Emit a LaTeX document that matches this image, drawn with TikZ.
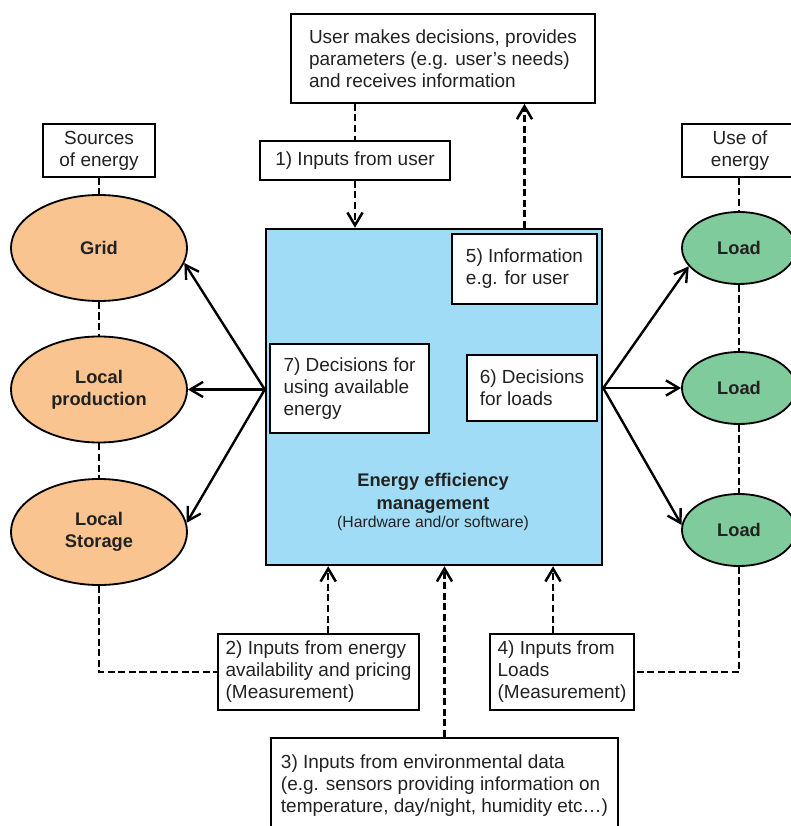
\documentclass[tikz,border=0pt]{standalone}
\usepackage{fontspec}
\setmainfont{Liberation Sans}
\usepackage{tikz}
\usetikzlibrary{shapes.geometric, arrows.meta}
\definecolor{srcorange}{HTML}{F9C48F}
\definecolor{loadgreen}{HTML}{80CB9C}
\definecolor{mgmtblue}{HTML}{A0DCF6}
\definecolor{txtgray}{HTML}{222222}
\tikzstyle{infobox} = [rectangle, draw=black, fill=white, line width=1.3pt, align=left, inner sep=0pt, text=txtgray, font=\fontsize{13.5}{15.6}\selectfont]
\tikzstyle{srcnode} = [ellipse, draw=black, fill=srcorange, line width=1.3pt, minimum width=4.4cm, minimum height=2.65cm, align=center, text=txtgray, font=\fontsize{13}{15.6}\selectfont\bfseries]
\tikzstyle{loadnode} = [ellipse, draw=black, fill=loadgreen, line width=1.3pt, minimum width=2.85cm, minimum height=1.8cm, align=center, text=txtgray, font=\fontsize{13}{15.6}\selectfont\bfseries]
\tikzstyle{arrow} = [line width=1.7pt, -{Straight Barb[length=3.2mm, width=3.8mm]}]
\tikzstyle{dashline} = [line width=1.8pt, dash pattern=on 5pt off 2.5pt]
\tikzstyle{dasharrow} = [dashline, -{Straight Barb[length=3.2mm, width=3.8mm]}]

\begin{document}
\begin{tikzpicture}[x=0.025cm, y=-0.025cm]
    \useasboundingbox (0,0) rectangle (790,826);

    \node (user) [infobox, minimum width=7.6cm, minimum height=2.225cm] at (443,58.5) {User makes decisions, provides\\parameters (e.g. user's needs)\\and receives information};
    \node (inuser) [infobox, minimum width=4.75cm, minimum height=0.975cm] at (355,160.5) {1) Inputs from user};
    \node (srclabel) [infobox, align=center, minimum width=2.8cm, minimum height=1.325cm] at (99,150.5) {Sources\\of energy};
    \node (uselabel) [infobox, align=center, minimum width=2.9cm, minimum height=1.325cm] at (740,150.5) {Use of\\energy};

    \node (mgmt) [rectangle, draw=black, fill=mgmtblue, line width=1.7pt, minimum width=8.4cm, minimum height=8.4cm] at (434,397) {};
    \node (info) [infobox, minimum width=3.625cm, minimum height=1.75cm] at (524.5,269) {5) Information\\e.g. for user};
    \node (decsrc) [infobox, minimum width=3.975cm, minimum height=2.225cm] at (349.5,388.5) {7) Decisions for\\using available\\energy};
    \node (decload) [infobox, minimum width=3.25cm, minimum height=1.65cm] at (532,388) {6) Decisions\\for loads};
    \node (mgmtlabel) [align=center, text=txtgray, font=\fontsize{13}{16.3}\selectfont] at (433,502) {\textbf{Energy efficiency}\\\textbf{management}\\[-3pt]{\fontsize{11.2}{12}\selectfont (Hardware and/or software)}};

    \node (grid) [srcnode] at (99,248) {Grid};
    \node (prod) [srcnode] at (99,389.5) {Local\\production};
    \node (stor) [srcnode] at (99,532) {Local\\Storage};
    \node (load1) [loadnode] at (739,248) {Load};
    \node (load2) [loadnode] at (739,388) {Load};
    \node (load3) [loadnode] at (739,530) {Load};

    \node (inavail) [infobox, minimum width=5.025cm, minimum height=1.9cm] at (318.5,672) {2) Inputs from energy\\availability and pricing\\(Measurement)};
    \node (inload) [infobox, minimum width=3.6cm, minimum height=1.9cm] at (562,672) {4) Inputs from\\Loads\\(Measurement)};
    \node (inenv) [infobox, anchor=north, minimum width=8.675cm, minimum height=2.4cm] at (444.5,737) {3) Inputs from environmental data\\(e.g. sensors providing information on\\temperature, day/night, humidity etc\dots)};

    \coordinate (lhub) at (mgmt.west |- prod.east);
    \coordinate (rhub) at (mgmt.east |- load2.west);

    \draw [arrow] (lhub) -- (grid.-10);
    \draw [arrow] (lhub) -- (prod.east);
    \draw [arrow] (lhub) -- (stor.6);
    \draw [arrow] (rhub) -- (load1.200);
    \draw [arrow] (rhub) -- (load2.west);
    \draw [arrow] (rhub) -- (load3.175);

    \draw [dashline] (srclabel) -- (grid);
    \draw [dashline] (grid) -- (prod);
    \draw [dashline] (prod) -- (stor);
    \draw [dashline] (stor.south) |- (inavail.west);
    \draw [dashline] (load1.north |- uselabel.south) -- (load1.north);
    \draw [dashline] (load1) -- (load2);
    \draw [dashline] (load2) -- (load3);
    \draw [dashline] (load3.south) |- (inload.east);

    \draw [dashline] (inuser.north |- user.south) -- (inuser.north);
    \draw [dasharrow] (inuser.south) -- (inuser.south |- mgmt.north);
    \draw [dasharrow] (info.north |- mgmt.north) -- (info.north |- user.south);
    \draw [dasharrow] (inavail.76) -- (inavail.76 |- mgmt.south);
    \draw [dasharrow] (inenv.north) -- (inenv.north |- mgmt.south);
    \draw [dasharrow] (inload.103) -- (inload.103 |- mgmt.south);
  \end{tikzpicture}
\end{document}
